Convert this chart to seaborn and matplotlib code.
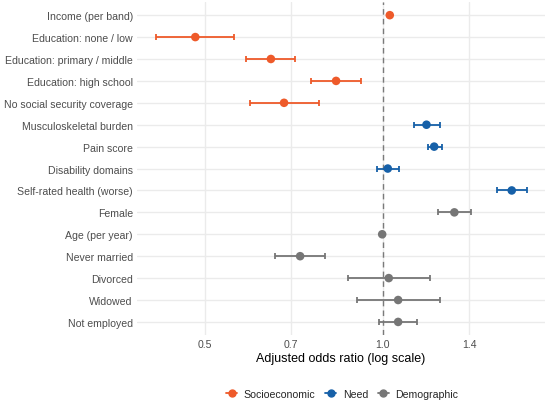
import numpy as np
import pandas as pd
import seaborn as sns
import matplotlib.pyplot as plt
from matplotlib.lines import Line2D

sns.set_theme(style="whitegrid")
plt.rcParams["font.family"] = ["Liberation Sans", "DejaVu Sans"]

# values
labels = [
    "Income (per band)", "Education: none / low", "Education: primary / middle",
    "Education: high school", "No social security coverage",
    "Musculoskeletal burden", "Pain score", "Disability domains",
    "Self-rated health (worse)",
    "Female", "Age (per year)", "Never married", "Divorced", "Widowed",
    "Not employed",
]
groups = ["Socioeconomic"] * 5 + ["Need"] * 4 + ["Demographic"] * 6
odds = [1.028, 0.482, 0.647, 0.834, 0.681,
        1.186, 1.222, 1.020, 1.653,
        1.322, 0.998, 0.725, 1.024, 1.062, 1.062]
ci_low = [1.020, 0.413, 0.588, 0.756, 0.596,
          1.129, 1.191, 0.978, 1.563,
          1.240, 0.995, 0.658, 0.874, 0.906, 0.986]
ci_high = [1.036, 0.561, 0.710, 0.919, 0.780,
           1.249, 1.259, 1.065, 1.751,
           1.412, 1.001, 0.799, 1.200, 1.248, 1.144]

palette = {"Socioeconomic": "#EE5A2A", "Need": "#1660A8", "Demographic": "#767676"}

df = pd.DataFrame({"label": labels, "group": groups, "or": odds,
                   "lo": ci_low, "hi": ci_high})
df["pos"] = np.arange(len(df))

fig, ax = plt.subplots(figsize=(5.5, 4.02), dpi=100)
fig.subplots_adjust(left=0.249, right=0.991, top=0.9925, bottom=0.164)

ax.axvline(1.0, color="#7a7a7a", linestyle=(0, (4, 3)), linewidth=1.0, zorder=1)

for grp, sub in df.groupby("group", sort=False):
    ax.errorbar(sub["or"], sub["pos"],
                xerr=[sub["or"] - sub["lo"], sub["hi"] - sub["or"]],
                fmt="none", ecolor=palette[grp], elinewidth=1.3,
                capsize=2.2, capthick=1.3, zorder=2)

sns.scatterplot(data=df, x="or", y="pos", hue="group", palette=palette,
                s=38, edgecolor="none", legend=False, zorder=3, ax=ax)

ax.set_xscale("log")
ax.set_xlim(0.384, 1.882)
ax.set_xticks([0.5, 0.7, 1.0, 1.4])
ax.set_xticklabels(["0.5", "0.7", "1.0", "1.4"])
ax.minorticks_off()
ax.set_ylim(len(df) - 0.4, -0.6)
ax.set_yticks(df["pos"])
ax.set_yticklabels(df["label"])

ax.grid(True, color="#ebebeb", linewidth=1.0)
ax.set_axisbelow(True)
for s in ax.spines.values():
    s.set_visible(False)
ax.tick_params(axis="both", length=0, labelsize=7.6, labelcolor="#4d4d4d", pad=3)
ax.set_xlabel("Adjusted odds ratio (log scale)", fontsize=9, color="black", labelpad=2)
ax.set_ylabel("")

handles = [Line2D([0], [0], color=palette[g], marker="o", markersize=5,
                  linewidth=1.3, label=g) for g in palette]
fig.legend(handles=handles, loc="center", ncol=3, frameon=False,
           fontsize=7.6, bbox_to_anchor=(0.622, 0.018), handlelength=1.1,
           columnspacing=0.9, handletextpad=0.6)

fig.savefig("out.png", dpi=100)
